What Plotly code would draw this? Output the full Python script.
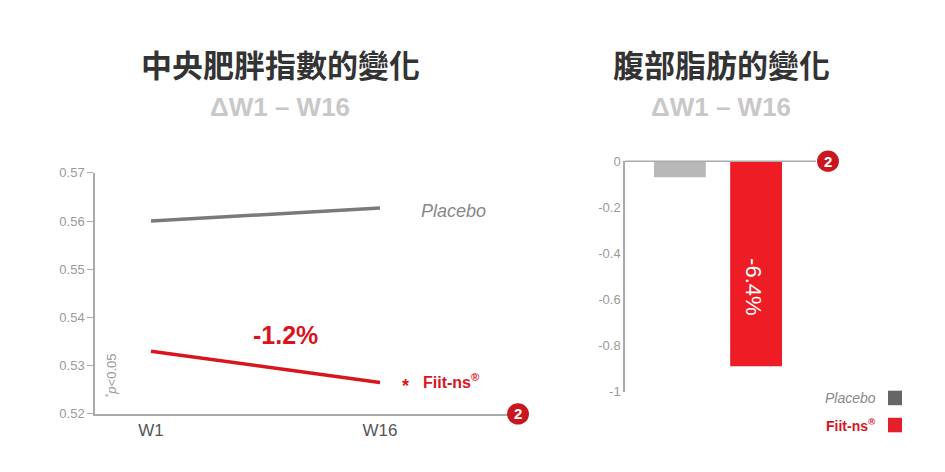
import plotly.graph_objects as go

weeks = ["W1", "W16"]
placebo_line = [0.560, 0.5627]
fiit_line = [0.533, 0.5265]
bar_groups = ["Placebo", "Fiit-ns®"]
bar_values = [-0.07, -0.89]
left_yticks = [0.52, 0.53, 0.54, 0.55, 0.56, 0.57]
right_yticks = [0, -0.2, -0.4, -0.6, -0.8, -1]
right_yticklabels = ["0", "-0.2", "-0.4", "-0.6", "-0.8", "-1"]

W, H = 945, 472
px = lambda x: x / W
py = lambda y: 1 - y / H
RED = "#d9141e"
GRAY = "#7a7a7a"
TICK = "#9a9a9a"

fig = go.Figure()
fig.add_trace(go.Scatter(x=[0, 1], y=placebo_line, mode="lines", line=dict(color=GRAY, width=3.5),
                         xaxis="x", yaxis="y", hoverinfo="skip"))
fig.add_trace(go.Scatter(x=[0, 1], y=fiit_line, mode="lines", line=dict(color=RED, width=3.5),
                         xaxis="x", yaxis="y", hoverinfo="skip"))
fig.add_trace(go.Bar(x=[0, 1], y=bar_values, width=0.68, xaxis="x2", yaxis="y2",
                     marker=dict(color=["#b8b8b8", "#ee1c25"], line=dict(width=0))))

L_TOP, L_BOT = 163, 412
R_TOP, R_BOT = 151, 389

fig.update_layout(
    width=W, height=H, margin=dict(l=0, r=0, t=0, b=0),
    plot_bgcolor="white", paper_bgcolor="white", showlegend=False,
    font=dict(family="Liberation Sans, Arial, sans-serif"),
    xaxis=dict(domain=[px(87), px(510)], range=[-0.2445, 1.6025], tickvals=[0, 1], ticktext=weeks,
               showgrid=False, zeroline=False, showline=True, linecolor="#aaaaaa", linewidth=1.5,
               ticks="", tickfont=dict(size=17, color="#555")),
    yaxis=dict(domain=[py(L_BOT), py(L_TOP)], range=[0.52, 0.57], tickvals=left_yticks,
               tickformat=".2f", showgrid=False, zeroline=False, showline=True, linecolor="#aaaaaa",
               linewidth=1.5, ticks="outside", ticklen=6, tickcolor="#aaaaaa",
               tickfont=dict(size=13, color=TICK)),
    xaxis2=dict(domain=[px(617), px(808)], range=[-0.72, 1.786], anchor="y2", showgrid=False,
                zeroline=False, showline=False, showticklabels=False, ticks=""),
    yaxis2=dict(domain=[py(R_BOT), py(R_TOP)], range=[-1, 0], anchor="x2", tickvals=right_yticks,
                ticktext=right_yticklabels, showgrid=False, zeroline=False, showline=True,
                linecolor="#aaaaaa", linewidth=1.5, ticks="", tickfont=dict(size=13, color=TICK)),
)

shapes = [
    dict(type="line", xref="paper", yref="paper", x0=px(617), x1=px(808), y0=py(R_TOP), y1=py(R_TOP),
         line=dict(color="#aaaaaa", width=1.5)),
    dict(type="circle", xref="paper", yref="paper", x0=px(499), x1=px(521), y0=py(423), y1=py(401),
         fillcolor="#c8171e", line=dict(width=0)),
    dict(type="circle", xref="paper", yref="paper", x0=px(809), x1=px(831), y0=py(R_TOP + 11), y1=py(R_TOP - 11),
         fillcolor="#c8171e", line=dict(width=0)),
    dict(type="rect", xref="paper", yref="paper", x0=px(880), x1=px(894), y0=py(403), y1=py(388),
         fillcolor="#666", line=dict(width=0)),
    dict(type="rect", xref="paper", yref="paper", x0=px(880), x1=px(894), y0=py(431), y1=py(416),
         fillcolor="#e3202a", line=dict(width=0)),
]
fig.update_layout(shapes=shapes)

def ann(x, y, text, size, color, bold=False, italic=False, angle=0, xanchor="center", family=None):
    t = text
    if bold: t = f"<b>{t}</b>"
    if italic: t = f"<i>{t}</i>"
    f = dict(size=size, color=color)
    if family: f["family"] = family
    fig.add_annotation(x=px(x), y=py(y), xref="paper", yref="paper", text=t, showarrow=False,
                       font=f, textangle=angle, xanchor=xanchor, yanchor="middle")

CJK = "Noto Sans CJK TC"
ann(272, 50, "中央肥胖指數的變化", 31, "#333", bold=True, family=CJK)
ann(713, 50, "腹部脂肪的變化", 31, "#333", bold=True, family=CJK)
ann(272, 95, "ΔW1 – W16", 26, "#c8c8c8", bold=True)
ann(713, 95, "ΔW1 – W16", 26, "#c8c8c8", bold=True)
ann(445, 202, "Placebo", 18, "#888", italic=True)
ann(277, 330, "-1.2%", 25, RED, bold=True)
ann(397, 383, "*", 18, RED, bold=True)
ann(413, 378, "Fiit-ns<sup>®</sup>", 16, RED, bold=True, xanchor="left")
ann(103, 372, "<sup>*</sup><i>p</i><0.05", 13, "#999", angle=-90)
ann(510, 412, "2", 15, "white", bold=True)
ann(820, R_TOP, "2", 15, "white", bold=True)
ann(746, 280, "-6.4%", 22, "white", angle=90)
ann(870, 396, "Placebo", 14, "#888", italic=True, xanchor="right")
ann(870, 423, "Fiit-ns<sup>®</sup>", 14, RED, bold=True, xanchor="right")

fig.write_html("out.html")
